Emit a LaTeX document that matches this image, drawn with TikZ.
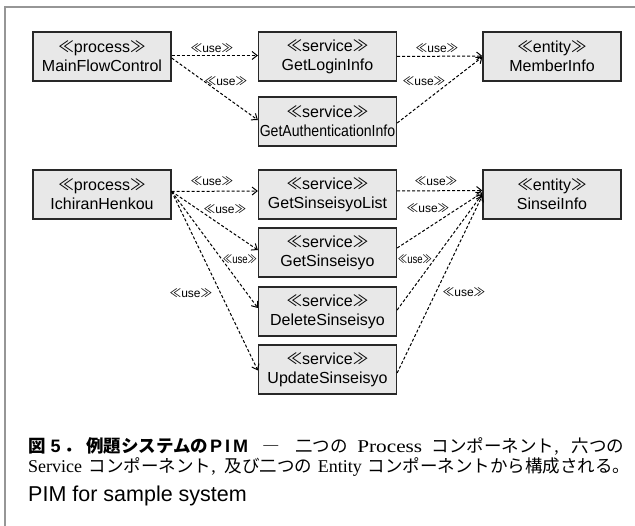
\documentclass[tikz,border=0pt]{standalone}
\usepackage{fontspec}
\usepackage{graphicx}
\setmainfont{Liberation Serif}
\setsansfont{Liberation Sans}
\newfontfamily\cjk[Scale=0.972]{Noto Sans CJK JP}
\usetikzlibrary{arrows.meta}
\definecolor{boxfill}{RGB}{232,232,232}
\definecolor{boxline}{RGB}{40,40,40}
\definecolor{framegray}{RGB}{150,150,150}
\newcommand{\stereo}[1]{{\cjk ≪}#1{\cjk ≫}}
\newcommand{\narrowuse}{\scalebox{0.8}[1]{\stereo{use}}}
\begin{document}
\begin{tikzpicture}[x=1pt,y=-1pt,
  comp/.style={draw=boxline, fill=boxfill, line width=1.3pt, minimum width=138pt,
    minimum height=49pt, inner sep=0pt, align=center,
    font=\sffamily\fontsize{16}{19}\selectfont},
  use/.style={draw=black, line width=1pt, dash pattern=on 3pt off 2pt,
    -{Straight Barb[length=5pt,width=8pt]}},
  lbl/.style={font=\sffamily\fontsize{12}{12}\selectfont, inner sep=0pt},
  captext/.style={anchor=base west, inner sep=0pt}]
\useasboundingbox (0,0) rectangle (635,526);
% frame
\draw[framegray, line width=2pt] (5,526) -- (5,7) -- (635,7);
% components
\node[comp] (MFC) at (102,56.5) {\stereo{process}\\MainFlowControl};
\node[comp] (GLI) at (327.5,56.5) {\stereo{service}\\GetLoginInfo};
\node[comp] (MI)  at (552,56.5) {\stereo{entity}\\MemberInfo};
\node[comp] (GAI) at (327.5,121.5) {\stereo{service}\\\scalebox{0.88}[1]{GetAuthenticationInfo}};
\node[comp] (IH)  at (102,194.5) {\stereo{process}\\IchiranHenkou};
\node[comp] (GSL) at (327.5,194.5) {\stereo{service}\\GetSinseisyoList};
\node[comp] (SI)  at (552,194.5) {\stereo{entity}\\SinseiInfo};
\node[comp] (GS)  at (327.5,252.5) {\stereo{service}\\GetSinseisyo};
\node[comp] (DS)  at (327.5,311.5) {\stereo{service}\\DeleteSinseisyo};
\node[comp] (US)  at (327.5,369.5) {\stereo{service}\\UpdateSinseisyo};
% connectors, top group
\draw[use] ([yshift=1pt]MFC.east) -- ([yshift=1pt]GLI.west);
\draw[use] ([yshift=-1.5pt]MFC.east) -- ([yshift=1.5pt]GAI.west);
\draw[use] (GLI.east) -- ([yshift=0.5pt]MI.west);
\draw[use] ([yshift=-1.5pt]GAI.east) -- ([yshift=-0.5pt]MI.west);
% connectors, bottom group
\draw[use] ([yshift=3pt]IH.east) -- ([yshift=3.5pt]GSL.west);
\draw[use] ([yshift=3pt]IH.east) -- ([yshift=2.5pt]GS.west);
\draw[use] ([yshift=3pt]IH.east) -- ([yshift=3.5pt]DS.west);
\draw[use] ([yshift=3pt]IH.east) -- ([yshift=-1pt]US.west);
\draw[use] ([yshift=3.5pt]GSL.east) -- ([yshift=4pt]SI.west);
\draw[use] ([yshift=4.5pt]GS.east) -- ([yshift=2pt]SI.west);
\draw[use] ([yshift=1.5pt]DS.east) -- ([yshift=0.5pt]SI.west);
\draw[use] ([yshift=-3.5pt]US.east) -- ([yshift=-1pt]SI.west);
% labels
\node[lbl] (l1)  at (212,48) {\stereo{use}};
\node[lbl] (l2)  at (226,81) {\stereo{use}};
\node[lbl] (l3)  at (437,48) {\stereo{use}};
\node[lbl] (l4)  at (424,81) {\stereo{use}};
\node[lbl] (l5)  at (212,181) {\stereo{use}};
\node[lbl] (l6)  at (225,209) {\stereo{use}};
\node[lbl] (l7)  at (240,259) {\narrowuse};
\node[lbl] (l8)  at (191,293) {\stereo{use}};
\node[lbl] (l9)  at (436,181) {\stereo{use}};
\node[lbl] (l10) at (428,208) {\stereo{use}};
\node[lbl] (l11) at (415,259) {\narrowuse};
\node[lbl] (l12) at (464,292) {\stereo{use}};
% caption
\node[captext] (c1) at (28,453) {\fontsize{18}{20}\selectfont\hbox to 596pt{{\cjk\bfseries 図}\kern5pt{\sffamily\bfseries 5}\kern4pt{\cjk\bfseries ．}\kern4pt{\cjk\bfseries 例題システムの}\kern2pt{\sffamily\bfseries P\kern3pt I\kern3pt M}\hspace{8pt plus 1fill}{\cjk ―}\hspace{8pt plus 1fill}{\cjk 二つの}\hspace{3pt plus 1fill}\scalebox{1.18}[1]{Process}\hspace{3pt plus 1fill}{\cjk コンポーネント},\hspace{6pt plus 1fill}{\cjk 六つの}}};
\node[captext] (c2) at (28,473) {\fontsize{18}{20}\selectfont\hbox to 602pt{Service\hspace{4pt plus 1fill}{\cjk コンポーネント},\hspace{6pt plus 1fill}{\cjk 及び二つの}\hspace{3pt plus 1fill}Entity\hspace{3pt plus 1fill}{\cjk コンポーネントから構成される。}}};
\node[captext] (c3) at (28,502) {\sffamily\fontsize{21.5}{21.5}\selectfont PIM for sample system};
\end{tikzpicture}
\end{document}
